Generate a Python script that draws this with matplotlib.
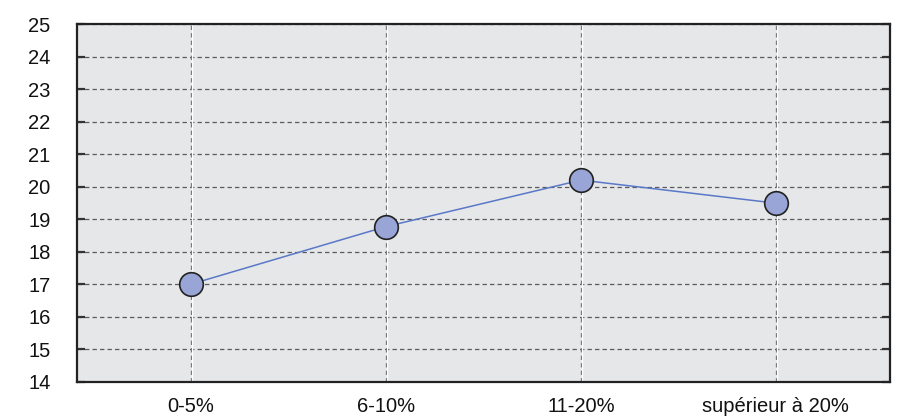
import matplotlib
matplotlib.use("Agg")
from matplotlib import pyplot as plt
import matplotlib.transforms as mtransforms

categories = ["0-5%", "6-10%", "11-20%", "supérieur à 20%"]
values = [17.0, 18.77, 20.2, 19.49]
y_ticks = list(range(14, 26))

plt.rcParams['font.family'] = ['Liberation Sans', 'DejaVu Sans']

fig = plt.figure(figsize=(9.05, 4.17), dpi=100)
ax = fig.add_axes([0.0851, 0.0847, 0.8983, 0.8577])
ax.set_facecolor('#e6e7e9')

x = list(range(len(categories)))

# white line next to each vertical grid line
offset = mtransforms.offset_copy(ax.get_xaxis_transform(), fig=fig, x=1.2, y=0, units='dots')
for xi in x:
    ax.plot([xi, xi], [0, 1], color='white', lw=1.0, zorder=1, transform=offset)

ax.grid(True, color='#5a5a5a', linestyle=(0, (3.5, 2.5)), linewidth=0.9, zorder=1.5)
ax.set_axisbelow(True)

ax.plot(x, values, color='#5a78c8', lw=1.1, zorder=3)
ax.plot(x, values, 'o', ms=17, markerfacecolor='#98a5d6',
        markeredgecolor='#222222', markeredgewidth=1.2, zorder=4)

ax.set_xlim(-0.585, 3.585)
ax.set_ylim(14, 25)
ax.set_yticks(y_ticks)
ax.set_xticks(x)
ax.set_xticklabels(categories)

for s in ax.spines.values():
    s.set_color('#222222')
    s.set_linewidth(1.6)

ax.tick_params(axis='y', direction='in', length=6, width=1.6, color='#333333',
               labelsize=14.5, pad=19, right=True, labelcolor='#111111')
ax.tick_params(axis='x', length=0, labelsize=14.5, pad=11, labelcolor='#111111')

fig.savefig("out.png", dpi=100)
